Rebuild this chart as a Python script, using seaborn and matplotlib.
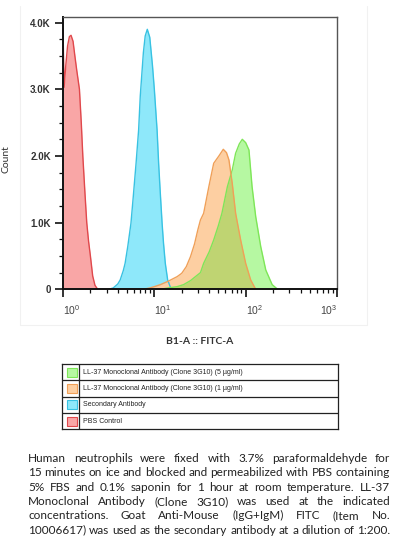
import numpy as np
import matplotlib
matplotlib.use("Agg")
import matplotlib.pyplot as plt
import seaborn as sns
from matplotlib.patches import Rectangle
from matplotlib.lines import Line2D
from matplotlib.ticker import FixedLocator, LogLocator, NullFormatter

# histogram outlines: x in log10(FITC-A), y in counts
red_log = [0.0, 0.012, 0.03, 0.05, 0.07, 0.088, 0.11, 0.13, 0.15, 0.18, 0.20,
           0.217, 0.24, 0.26, 0.28, 0.30, 0.325, 0.35, 0.38]
red_cnt = [3910, 3030, 3350, 3650, 3790, 3810, 3720, 3500, 3290, 3000, 2500,
           2000, 1450, 1000, 720, 500, 200, 60, 0]

blue_log = [0.50, 0.55, 0.60, 0.626, 0.66, 0.68, 0.71, 0.744, 0.77, 0.80, 0.828,
            0.846, 0.88, 0.90, 0.923, 0.95, 0.98, 1.0, 1.03, 1.047, 1.065, 1.085,
            1.10, 1.12, 1.146, 1.176, 1.20]
blue_cnt = [0, 20, 80, 140, 280, 390, 650, 990, 1400, 1890, 2390,
            2900, 3550, 3800, 3900, 3780, 3350, 3000, 2390, 1890, 1450, 990,
            700, 390, 140, 30, 0]

orange_log = [0.88, 0.95, 1.0, 1.066, 1.15, 1.25, 1.30, 1.35, 1.396, 1.44, 1.476,
              1.505, 1.54, 1.597, 1.65, 1.707, 1.755, 1.79, 1.817, 1.853, 1.89,
              1.945, 2.0, 2.055, 2.11]
orange_cnt = [0, 20, 40, 70, 120, 190, 240, 340, 490, 680, 890,
              1040, 1140, 1540, 1890, 2000, 2100, 2050, 1940, 1590, 1140,
              740, 390, 140, 0]

green_log = [1.07, 1.15, 1.25, 1.32, 1.396, 1.45, 1.505, 1.54, 1.60, 1.65, 1.70,
             1.74, 1.80, 1.853, 1.89, 1.93, 1.963, 2.0, 2.036, 2.07, 2.11, 2.165,
             2.22, 2.29, 2.35]
green_cnt = [0, 20, 40, 70, 130, 190, 250, 390, 560, 740, 950,
             1140, 1540, 1790, 2040, 2180, 2250, 2200, 2090, 1540, 1090, 640,
             290, 70, 0]

y_ticks = [0, 1000, 2000, 3000, 4000]
y_tick_labels = ["0", "1.0K", "2.0K", "3.0K", "4.0K"]
x_ticks = [1, 10, 100, 1000]
x_tick_labels = [r"$\mathregular{10^{0}}$", r"$\mathregular{10^{1}}$",
                 r"$\mathregular{10^{2}}$", r"$\mathregular{10^{3}}$"]

legend_labels = ["LL-37 Monoclonal Antibody (Clone 3G10) (5 \u00b5g/ml)",
                 "LL-37 Monoclonal Antibody (Clone 3G10) (1 \u00b5g/ml)",
                 "Secondary Antibody",
                 "PBS Control"]

caption_lines = [
    "Human neutrophils were fixed with 3.7% paraformaldehyde for",
    "15 minutes on ice and blocked and permeabilized with PBS containing",
    "5% FBS and 0.1% saponin for 1 hour at room temperature. LL-37",
    "Monoclonal Antibody (Clone 3G10) was used at the indicated",
    "concentrations. Goat Anti-Mouse (IgG+IgM) FITC (Item No.",
    "10006617) was used as the secondary antibody at a dilution of 1:200.",
]

RED_FILL, RED_LINE = "#f9a6a6", "#e0484c"
BLUE_FILL, BLUE_LINE = "#8ee8fa", "#38c2e2"
ORANGE_FILL, ORANGE_LINE = "#fdcfa2", "#f0a058"
GREEN_FILL, GREEN_LINE = "#b6f8a2", "#7ee658"
OLIVE_FILL = "#bfd472"

sns.set_style("white")
plt.rcParams["font.family"] = ["Liberation Sans", "DejaVu Sans"]
plt.rcParams["mathtext.default"] = "regular"

W, H = 394, 540
fig = plt.figure(figsize=(W / 100, H / 100), dpi=100)

def fx(px):
    return px / W

def fy(py):
    return 1 - py / H

# faint panel border around the plot
for (x0, y0, x1, y1) in [(20, 6, 20, 325), (367, 6, 367, 325), (20, 325, 367, 325)]:
    fig.add_artist(Line2D([fx(x0), fx(x1)], [fy(y0), fy(y1)], color="#f1f1f1", lw=0.8))

ax = fig.add_axes([fx(63), fy(289.3), fx(337) - fx(63), fy(17.3) - fy(289.3)])

series = [
    (red_log, red_cnt, RED_FILL, RED_LINE),
    (blue_log, blue_cnt, BLUE_FILL, BLUE_LINE),
    (green_log, green_cnt, GREEN_FILL, GREEN_LINE),
    (orange_log, orange_cnt, ORANGE_FILL, ORANGE_LINE),
]
for lg, cnt, fill, _ in series:
    ax.fill_between(10 ** np.array(lg), cnt, 0, color=fill, lw=0)

# green / orange overlap shows as olive
grid = np.linspace(green_log[0], orange_log[-1], 400)
overlap = np.minimum(np.interp(grid, green_log, green_cnt),
                     np.interp(grid, orange_log, orange_cnt))
ax.fill_between(10 ** grid, overlap, 0, color=OLIVE_FILL, lw=0)

for lg, cnt, _, line in series:
    sns.lineplot(x=10 ** np.array(lg), y=cnt, ax=ax, color=line, lw=1.0,
                 sort=False, estimator=None)

ax.set_xscale("log")
ax.set_xlim(1, 1000)
ax.set_ylim(0, 4080)

ax.xaxis.set_major_locator(FixedLocator(x_ticks))
ax.set_xticklabels(x_tick_labels)
ax.xaxis.set_minor_locator(LogLocator(base=10, subs=np.arange(2, 10)))
ax.xaxis.set_minor_formatter(NullFormatter())
ax.yaxis.set_major_locator(FixedLocator(y_ticks))
ax.set_yticklabels(y_tick_labels)
ax.yaxis.set_minor_locator(FixedLocator(np.arange(0, 4001, 250)))

ax.tick_params(axis="both", which="major", direction="out", length=5.8, width=1.2,
               color="#111111", left=True, bottom=True)
ax.tick_params(axis="both", which="minor", direction="out", length=3.2, width=0.9,
               color="#111111", left=True, bottom=True)
ax.tick_params(axis="y", which="major", labelsize=7, pad=3, labelcolor="#333333")
ax.tick_params(axis="x", which="major", labelsize=7.5, pad=4, labelcolor="#444444")
for lab in ax.get_yticklabels():
    lab.set_fontweight("bold")
xl = ax.get_xticklabels()
for lab in xl[:3]:
    lab.set_horizontalalignment("left")
xl[3].set_horizontalalignment("right")

for side in ["left", "bottom"]:
    ax.spines[side].set_color("#111111")
    ax.spines[side].set_linewidth(1.4)
for side in ["top", "right"]:
    ax.spines[side].set_color("#555555")
    ax.spines[side].set_linewidth(1.0)
    ax.spines[side].set_visible(True)

ax.set_ylabel("Count", family=["Lato", "DejaVu Sans"], fontsize=7.5, color="#333333")
ax.yaxis.set_label_coords(-0.193, 0.48)
ax.set_xlabel("B1-A :: FITC-A", family=["Lato", "DejaVu Sans"], fontsize=7.5,
              fontweight="bold", color="#333333")
ax.xaxis.set_label_coords(0.5, -0.175)

# legend table below the plot
lx0, lx1, ly0, ly1 = 62.3, 338, 364, 429.3
lax = fig.add_axes([fx(lx0), fy(ly1), fx(lx1) - fx(lx0), fy(ly0) - fy(ly1)])
lax.set_xlim(0, lx1 - lx0)
lax.set_ylim(ly1 - ly0, 0)
lax.set_xticks([])
lax.set_yticks([])
for s in lax.spines.values():
    s.set_color("#222222")
    s.set_linewidth(0.9)
row_h = (ly1 - ly0) / 4
swatches = [(GREEN_FILL, GREEN_LINE), (ORANGE_FILL, ORANGE_LINE),
            (BLUE_FILL, BLUE_LINE), (RED_FILL, RED_LINE)]
lax.axvline(79 - lx0, color="#222222", lw=0.9)
for i, (label, (fc, ec)) in enumerate(zip(legend_labels, swatches)):
    if i > 0:
        lax.axhline(i * row_h, color="#222222", lw=0.9)
    cy = (i + 0.5) * row_h
    lax.add_patch(Rectangle((66.5 - lx0, cy - 4.5), 10, 9, facecolor=fc,
                            edgecolor=ec, lw=0.8))
    lax.text(83 - lx0, cy, label, fontsize=5, color="#222222", va="center", ha="left")

# justified caption; font size chosen so the widest line fills the column
renderer = fig.canvas.get_renderer()
cap_left, cap_right = 28, 390
probe = fig.text(0, 0, caption_lines[1], family=["Lato"], fontsize=8)
cap_size = 8 * (cap_right - cap_left) / probe.get_window_extent(renderer).width
probe.remove()
sp_probe = fig.text(0, 0, " ", family=["Lato"], fontsize=cap_size)
a1 = fig.text(0, 0, "a a", family=["Lato"], fontsize=cap_size)
a2 = fig.text(0, 0, "aa", family=["Lato"], fontsize=cap_size)
space_w = a1.get_window_extent(renderer).width - a2.get_window_extent(renderer).width
for t in (sp_probe, a1, a2):
    t.remove()

baselines = [462, 476.3, 490.6, 504.9, 519.2, 533.5]
for i, (line, base) in enumerate(zip(caption_lines, baselines)):
    words = line.split(" ")
    texts = [fig.text(0, fy(base), w, family=["Lato", "DejaVu Sans"], fontsize=cap_size,
                      color="#222222", va="baseline", ha="left") for w in words]
    widths = [t.get_window_extent(renderer).width for t in texts]
    if i < len(caption_lines) - 1:
        gap = (cap_right - cap_left - sum(widths)) / (len(words) - 1)
    else:
        gap = space_w
    x = cap_left
    for t, w in zip(texts, widths):
        t.set_x(fx(x))
        x += w + gap

fig.savefig("out.png", dpi=100)
